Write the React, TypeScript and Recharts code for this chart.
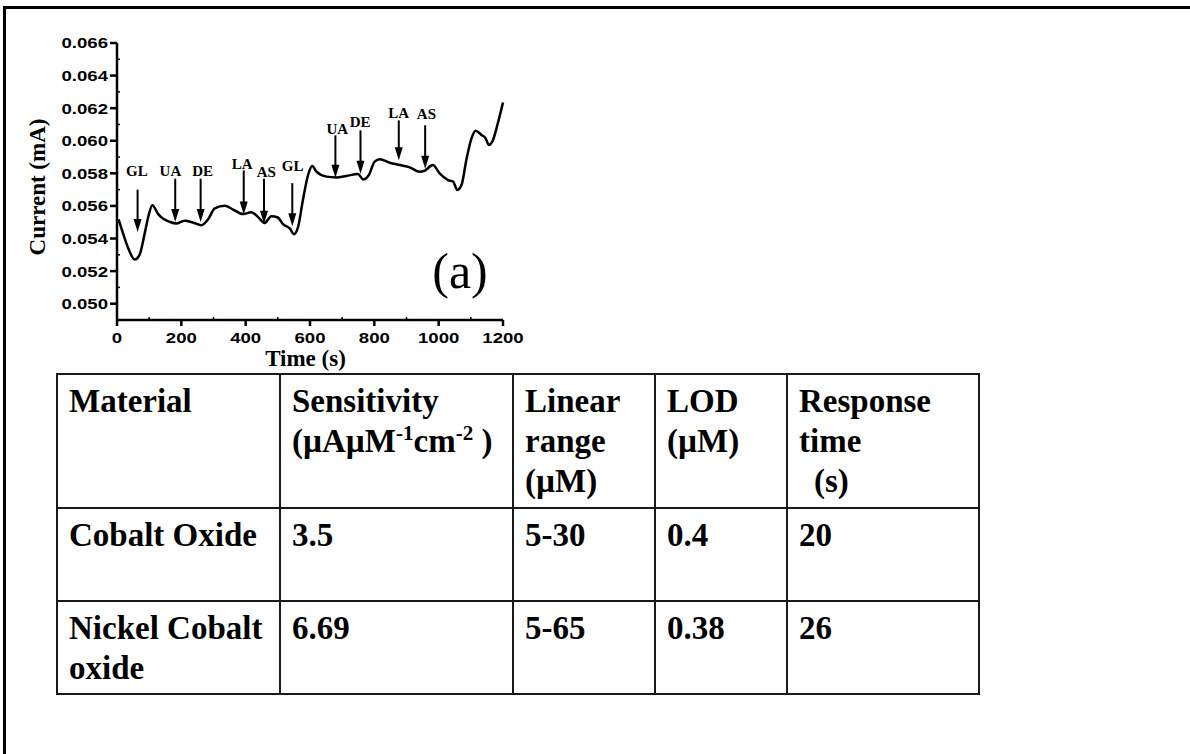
import React from "react"
import { LineChart, Line, XAxis, YAxis, ReferenceLine, ReferenceDot } from "recharts"

// amperometric trace
const times = [
    5, 19, 37, 55, 70, 86, 98, 110, 128, 145, 164, 184, 210, 236, 262, 283, 304, 335, 361, 392,
    418, 438, 459, 480, 500, 516, 537, 550, 563, 578, 594, 607, 620, 651, 682, 713, 749, 765, 783, 801,
    817, 848, 879, 910, 941, 956, 982, 1003, 1029, 1045, 1058, 1071, 1086, 1102, 1115, 1133, 1146, 1156, 1169, 1184,
    1200,
]
const currents = [
    0.05517, 0.0543, 0.0533, 0.05271, 0.053, 0.0543, 0.0554, 0.05605, 0.0555, 0.0552, 0.05502, 0.05492, 0.05509, 0.05498, 0.05482, 0.05517, 0.05585, 0.05601, 0.05578, 0.0555,
    0.05562, 0.05533, 0.05496, 0.05537, 0.05529, 0.05488, 0.05462, 0.05427, 0.05472, 0.05636, 0.0579, 0.05845, 0.0581, 0.0578, 0.05775, 0.05784, 0.05796, 0.05763, 0.0579, 0.05872,
    0.05886, 0.05865, 0.05851, 0.05837, 0.0581, 0.05816, 0.05851, 0.058, 0.05759, 0.05749, 0.05698, 0.05728, 0.05882, 0.06015, 0.06062, 0.06036, 0.06015, 0.05974, 0.06005, 0.06108,
    0.06235,
]

// injection arrows
const markerLabels = ["GL", "UA", "DE", "LA", "AS", "GL", "UA", "DE", "LA", "AS"]
const markerTimes = [64, 181, 260, 394, 457, 545, 679, 757, 876, 958]
const markerTops = [0.057, 0.05767, 0.05767, 0.05818, 0.05767, 0.0574, 0.06033, 0.06064, 0.06125, 0.06095]
const markerTips = [0.0544, 0.05501, 0.05501, 0.05548, 0.05491, 0.05476, 0.05773, 0.05798, 0.0588, 0.05829]
const labelTimes = [62, 166, 266, 389, 464, 546, 685, 756, 876, 962]
const labelLevels = [0.05783, 0.05783, 0.05783, 0.05829, 0.05777, 0.05814, 0.0604, 0.06084, 0.06142, 0.06136]

const xTicks = [0, 100, 200, 300, 400, 500, 600, 700, 800, 900, 1000, 1100, 1200]
const yTicks = [
    0.05, 0.051, 0.052, 0.053, 0.054, 0.055, 0.056, 0.057, 0.058, 0.059, 0.06, 0.061, 0.062, 0.063, 0.064, 0.065, 0.066,
]

// comparison table
const tableMaterials = ["Cobalt Oxide", "Nickel Cobalt oxide"]
const tableSensitivity = ["3.5", "6.69"]
const tableLinearRange = ["5-30", "5-65"]
const tableLod = ["0.4", "0.38"]
const tableResponse = ["20", "26"]

const data = times.map((t, i) => ({ t, current: currents[i] }))

const SANS = "'Liberation Sans', Arial, sans-serif"
const SERIF = "'Liberation Serif', 'Times New Roman', serif"
const STRETCH = 1.24

const isMajorY = (v: number) => Math.round(v * 1000) % 2 === 0
const isMajorX = (v: number) => v % 200 === 0

function LeftTick(props: any) {
    const { x, y, payload } = props
    const v = payload.value as number
    if (!isMajorY(v)) {
        return <line x1={x} y1={y} x2={x + 3} y2={y} stroke="#000" strokeWidth={1.5} />
    }
    return (
        <g transform={`translate(${x},${y})`}>
            <line x1={-7} y1={0} x2={0} y2={0} stroke="#000" strokeWidth={2.5} />
            <text
                transform={`scale(${STRETCH},1)`}
                x={-9 / STRETCH}
                y={0}
                dy="0.36em"
                textAnchor="end"
                fontFamily={SANS}
                fontWeight="bold"
                fontSize={15}
                fill="#000"
            >
                {v.toFixed(3)}
            </text>
        </g>
    )
}

function BottomTick(props: any) {
    const { x, y, payload } = props
    const v = payload.value as number
    if (!isMajorX(v)) {
        return <line x1={x} y1={y} x2={x} y2={y - 3} stroke="#000" strokeWidth={1.5} />
    }
    return (
        <g transform={`translate(${x},${y})`}>
            <line x1={0} y1={0} x2={0} y2={6} stroke="#000" strokeWidth={2.5} />
            <text
                transform={`scale(${STRETCH},1)`}
                x={0}
                y={23.5}
                textAnchor="middle"
                fontFamily={SANS}
                fontWeight="bold"
                fontSize={15}
                fill="#000"
            >
                {v}
            </text>
        </g>
    )
}

function RightTick(props: any) {
    const { x, y } = props
    return <line x1={x} y1={y} x2={x - 3} y2={y} stroke="#000" strokeWidth={1.5} />
}

function TopTick(props: any) {
    const { x, y } = props
    return <line x1={x} y1={y} x2={x} y2={y + 3} stroke="#000" strokeWidth={1.5} />
}

function Arrow(props: any) {
    const { x1, y1, x2, y2 } = props
    const head = 13
    return (
        <g>
            <line x1={x1} y1={y1} x2={x2} y2={y2 - head + 1} stroke="#000" strokeWidth={2} />
            <polygon points={`${x2 - 4},${y2 - head} ${x2 + 4},${y2 - head} ${x2},${y2}`} fill="#000" />
        </g>
    )
}

function MarkerLabel(name: string) {
    return (props: any) => (
        <text
            x={props.cx}
            y={props.cy}
            textAnchor="middle"
            fontFamily={SERIF}
            fontWeight="bold"
            fontSize={15}
            fill="#000"
        >
            {name}
        </text>
    )
}

const axisLine = { stroke: "#000", strokeWidth: 2.5 }

function CurrentChart() {
    return (
        <div style={{ position: "absolute", left: 0, top: 0, width: 540, height: 380 }}>
            <LineChart width={540} height={370} data={data} margin={{ top: 43, right: 37, bottom: 10, left: 57 }}>
                <XAxis
                    dataKey="t"
                    type="number"
                    domain={[0, 1200]}
                    ticks={xTicks}
                    interval={0}
                    height={40}
                    tickSize={0}
                    tickMargin={0}
                    tickLine={false}
                    axisLine={axisLine}
                    tick={BottomTick}
                />
                <XAxis
                    xAxisId="top"
                    orientation="top"
                    type="number"
                    domain={[0, 1200]}
                    ticks={xTicks}
                    interval={0}
                    height={0}
                    tickSize={0}
                    tickMargin={0}
                    tickLine={false}
                    axisLine={axisLine}
                    tick={TopTick}
                />
                <YAxis
                    type="number"
                    domain={[0.049, 0.066]}
                    ticks={yTicks}
                    interval={0}
                    width={60}
                    tickSize={0}
                    tickMargin={0}
                    tickLine={false}
                    axisLine={axisLine}
                    tick={LeftTick}
                    allowDataOverflow
                />
                <YAxis
                    yAxisId="right"
                    orientation="right"
                    type="number"
                    domain={[0.049, 0.066]}
                    ticks={yTicks}
                    interval={0}
                    width={0}
                    tickSize={0}
                    tickMargin={0}
                    tickLine={false}
                    axisLine={axisLine}
                    tick={RightTick}
                    allowDataOverflow
                />
                <Line
                    type="monotone"
                    dataKey="current"
                    stroke="#000"
                    strokeWidth={2.5}
                    dot={false}
                    activeDot={false}
                    isAnimationActive={false}
                />
                {markerTimes.map((t, i) => (
                    <ReferenceLine
                        key={`arrow-${i}`}
                        segment={[
                            { x: t, y: markerTops[i] },
                            { x: t, y: markerTips[i] },
                        ]}
                        shape={Arrow}
                    />
                ))}
                {markerLabels.map((name, i) => (
                    <ReferenceDot
                        key={`label-${i}`}
                        x={labelTimes[i]}
                        y={labelLevels[i]}
                        r={0}
                        shape={MarkerLabel(name)}
                    />
                ))}
            </LineChart>
            <svg
                width={540}
                height={380}
                style={{ position: "absolute", left: 0, top: 0, pointerEvents: "none" }}
            >
                <text
                    transform="translate(45,187) rotate(-90)"
                    textAnchor="middle"
                    fontFamily={SERIF}
                    fontWeight="bold"
                    fontSize={23}
                    fill="#000"
                >
                    Current (mA)
                </text>
                <text x={305.5} y={366} textAnchor="middle" fontFamily={SERIF} fontWeight="bold" fontSize={23} fill="#000">
                    Time (s)
                </text>
                <text x={460} y={288} textAnchor="middle" fontFamily={SERIF} fontSize={50} fill="#000">
                    (a)
                </text>
            </svg>
        </div>
    )
}

const cell: React.CSSProperties = {
    border: "2px solid #1a1a1a",
    verticalAlign: "top",
    padding: "6px 6px 0 11px",
    textAlign: "left",
    fontWeight: "bold",
}

const sup: React.CSSProperties = { fontSize: 21, verticalAlign: "super", lineHeight: 0 }

function SummaryTable() {
    const rows = tableMaterials.map((m, i) => [m, tableSensitivity[i], tableLinearRange[i], tableLod[i], tableResponse[i]])
    return (
        <table
            style={{
                position: "absolute",
                left: 56,
                top: 373,
                width: 924,
                borderCollapse: "collapse",
                tableLayout: "fixed",
                fontFamily: SERIF,
                fontSize: 33,
                lineHeight: "40px",
                color: "#000",
            }}
        >
            <colgroup>
                <col style={{ width: 223 }} />
                <col style={{ width: 233 }} />
                <col style={{ width: 142 }} />
                <col style={{ width: 132 }} />
                <col style={{ width: 192 }} />
            </colgroup>
            <tbody>
                <tr style={{ height: 134 }}>
                    <td style={cell}>Material</td>
                    <td style={{ ...cell, whiteSpace: "nowrap" }}>
                        Sensitivity
                        <br />
                        (µAµM<span style={sup}>-1</span>cm<span style={sup}>-2</span> )
                    </td>
                    <td style={cell}>
                        Linear
                        <br />
                        range
                        <br />
                        (µM)
                    </td>
                    <td style={cell}>
                        LOD
                        <br />
                        (µM)
                    </td>
                    <td style={cell}>
                        Response
                        <br />
                        time
                        <br />
                        <span style={{ paddingLeft: 15 }}>(s)</span>
                    </td>
                </tr>
                {rows.map((r, i) => (
                    <tr key={i} style={{ height: 93 }}>
                        {r.map((v, j) => (
                            <td key={j} style={cell}>
                                {v}
                            </td>
                        ))}
                    </tr>
                ))}
            </tbody>
        </table>
    )
}

export default function App() {
    return (
        <div
            style={{
                position: "absolute",
                left: 0,
                top: 0,
                width: 1190,
                height: 754,
                overflow: "hidden",
                background: "#fff",
            }}
        >
            <div
                style={{
                    position: "absolute",
                    left: 3,
                    top: 6,
                    width: 1400,
                    height: 1000,
                    border: "3px solid #000",
                }}
            />
            <CurrentChart />
            <SummaryTable />
        </div>
    )
}
